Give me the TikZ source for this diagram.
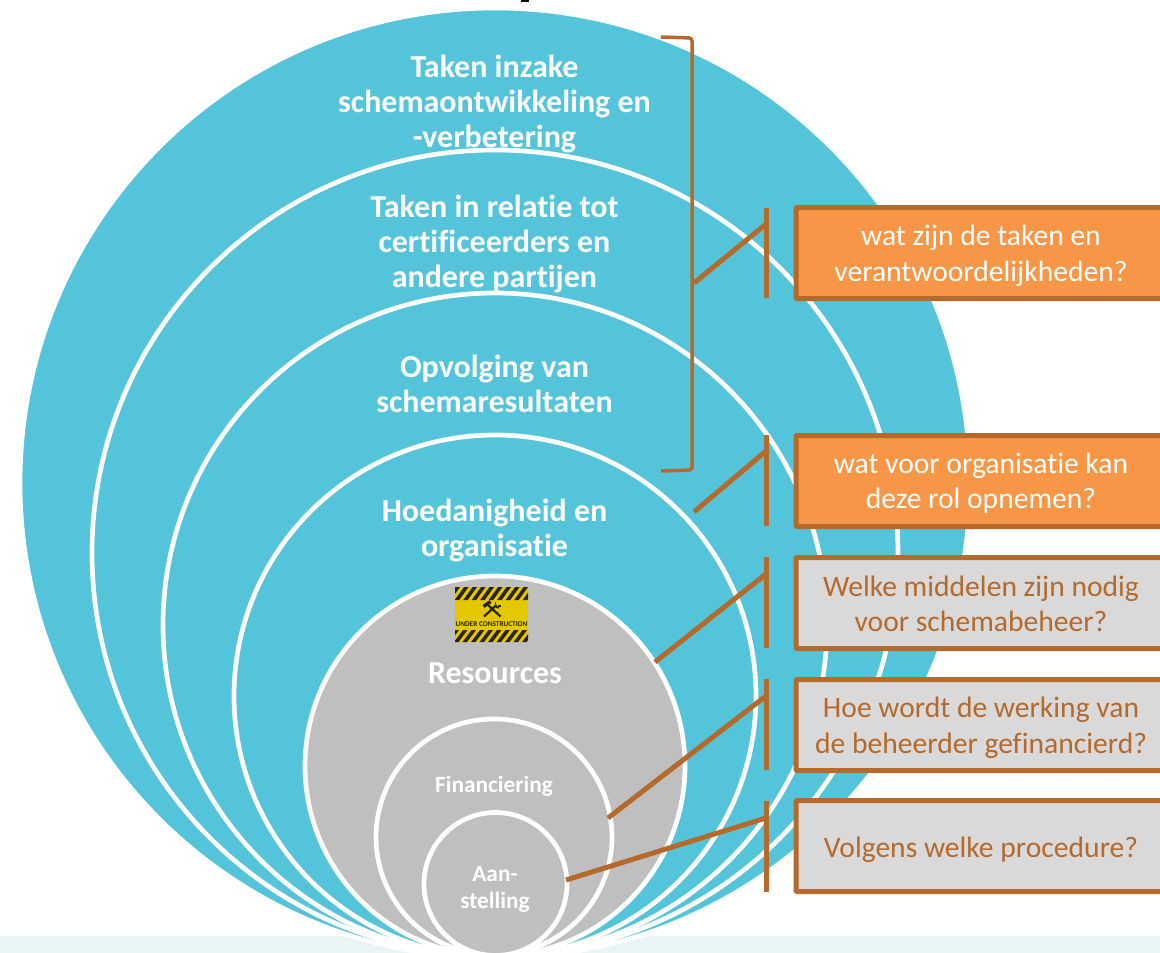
\documentclass[tikz,border=0pt]{standalone}
\usepackage{fontspec}
\setmainfont[Ligatures=NoCommon]{Carlito}
\definecolor{teal}{HTML}{53C4D9}
\definecolor{greyc}{HTML}{BFBFBF}
\definecolor{brownl}{HTML}{B56A2B}
\definecolor{orangeb}{HTML}{F79646}
\definecolor{greyb}{HTML}{D9D9D9}
\definecolor{band}{HTML}{E8F4F5}
\definecolor{signy}{HTML}{E3C800}
\definecolor{signk}{HTML}{2B2410}
\tikzset{
  ring/.style={circle,draw=white,line width=4.7pt,inner sep=0pt,outer sep=0pt},
  lab/.style={text=white,font=\bfseries\fontsize{32}{35}\selectfont,align=center,inner sep=0pt},
  labs/.style={text=white,font=\bfseries\fontsize{23.3}{31}\selectfont,align=center,inner sep=0pt},
  qbox/.style={draw=brownl,line width=5pt,rounded corners=1pt,minimum width=370pt,minimum height=91pt,inner sep=0pt,outer sep=0pt},
  qtext/.style={inner sep=0pt,align=center,font=\fontsize{29.6}{35.5}\selectfont},
  qo/.style={qbox,fill=orangeb},
  qg/.style={qbox,fill=greyb},
  conn/.style={draw=brownl,line width=5pt},
  brk/.style={draw=brownl,line width=3.5pt,rounded corners=3pt},
}
\begin{document}
\begin{tikzpicture}[x=1pt,y=-1pt]
\useasboundingbox (0,0) rectangle (1160,953);
\clip (0,0) rectangle (1160,953);
\fill[white] (0,0) rectangle (1160,953);
\fill[band] (0,936) rectangle (1160,953);
\fill[white] (495,389) circle (568);
\fill[black] (521,0) rectangle (529,1.5);
\node[ring,fill=teal,minimum size=950pt] (c1) at (495,483) {};
\node[ring,fill=teal,minimum size=806pt] (c2) at (495,553) {};
\node[ring,fill=teal,minimum size=664pt] (c3) at (495,625) {};
\node[ring,fill=teal,minimum size=522pt] (c4) at (495,696) {};
\node[ring,fill=greyc,minimum size=380pt] (c5) at (495,766) {};
\node[ring,fill=greyc,minimum size=236pt] (c6) at (494,837) {};
\node[ring,fill=greyc,minimum size=143pt] (c7) at (495.5,884) {};
\node[lab] (t1) at (494.5,104) {Taken inzake\\schemaontwikkeling en\\-verbetering};
\node[lab] (t2) at (494.5,244) {Taken in relatie tot\\certificeerders en\\andere partijen};
\node[lab] (t3) at (494.5,383.5) {Opvolging van\\schemaresultaten};
\node[lab] (t4) at (494.5,530) {Hoedanigheid en\\organisatie};
\node[lab] (t5) at (495,673) {Resources};
\node[labs] (t6) at (494,786) {Financiering};
\node[labs,font=\bfseries\fontsize{23.3}{27}\selectfont] (t7) at (495,889) {Aan-\\stelling};
% sign
\node[fill=signy,minimum width=73pt,minimum height=55pt,inner sep=0pt,outer sep=0pt] (sign) at (491.5,614.5) {};
\begin{scope}
\clip (455,587) rectangle (528,600) (455,630) rectangle (528,642);
\foreach \i in {0,...,10}{
  \fill[signk] (444+\i*8.5,603)--(448.5+\i*8.5,603)--(461.5+\i*8.5,585)--(457+\i*8.5,585)--cycle;
  \fill[signk] (444+\i*8.5,644)--(448.5+\i*8.5,644)--(460.5+\i*8.5,628)--(456+\i*8.5,628)--cycle;
}
\end{scope}
% hammer and wrench
\draw[signk,line width=2.2pt] (500.5,616.5)--(488,605);
\draw[signk,line width=3.4pt] (483.5,606.5)--(490.5,601.5);
\draw[signk,line width=2.2pt] (484,616.5)--(496.5,605);
\draw[signk,line width=1.6pt] (495.5,604)--(495.5,601.5) (497.5,606)--(500.8,606);
\draw[signk,line width=1.5pt] (495.5,605) arc (180:90:3.5 and 3);
\node[text=signk,inner sep=0pt,font=\bfseries\fontsize{7.3}{8}\selectfont] (st) at (491.5,624) {UNDER CONSTRUCTION};
% boxes
\node[qo] (q1) at (981,253) {};
\node[qo] (q2) at (981,481) {};
\node[qg] (q3) at (981,603) {};
\node[qg] (q4) at (981,725) {};
\node[qg] (q5) at (981,846) {};
\node[qtext,text=white] (l1) at (981,256) {wat zijn de taken en\\verantwoordelijkheden?};
\node[qtext,text=white] (l2) at (981,483) {wat voor organisatie kan\\deze rol opnemen?};
\node[qtext,text=brownl] (l3) at (981,604) {Welke middelen zijn nodig\\voor schemabeheer?};
\node[qtext,text=brownl] (l4) at (981,728) {Hoe wordt de werking van\\de beheerder gefinancierd?};
\node[qtext,text=brownl] (l5) at (981,850) {Volgens welke procedure?};
% bracket
\coordinate (b1) at (661,37);
\coordinate (b2) at (661,471);
\draw[brk] (b1)--(692,38)--(692,470)--(b2);
% bars
\coordinate (v1a) at (766,208); \coordinate (v1b) at (766,298); \coordinate (v1m) at (766,224);
\coordinate (v2a) at (766,435); \coordinate (v2b) at (766,526); \coordinate (v2m) at (766,451);
\coordinate (v3a) at (766,557); \coordinate (v3b) at (766,648); \coordinate (v3m) at (766,574);
\coordinate (v4a) at (766,679); \coordinate (v4b) at (766,770); \coordinate (v4m) at (766,696);
\coordinate (v5a) at (766,801); \coordinate (v5b) at (766,892); \coordinate (v5m) at (766,818);
\coordinate (s1) at (694,283);
\coordinate (s2) at (694,512);
\coordinate (s3) at (655,662);
\coordinate (s4) at (608,818);
\coordinate (s5) at (566,880);
\foreach \i in {1,...,5}{
  \draw[conn] (v\i a)--(v\i b);
  \draw[conn] (s\i)--(v\i m);
}
\end{tikzpicture}
\end{document}
